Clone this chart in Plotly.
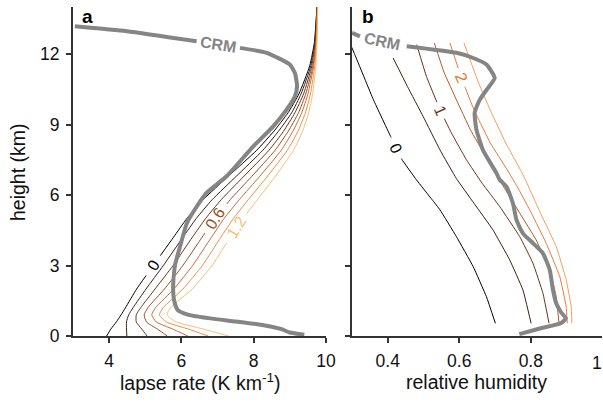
import numpy as np
import plotly.graph_objects as go

W, H = 603, 403

# ---------------- panel a : lapse rate ----------------
heights_a = [0, 0.3, 0.6, 0.9, 1.2, 2.0, 3.0, 4.2, 5.0, 5.8, 6.8, 7.9, 8.7, 9.5, 10.3, 11.5, 12.5, 14]
lapse_levels = ["0", "0.2", "0.4", "0.6", "0.8", "1", "1.2"]
lapse_0 = [3.93, 4.05, 4.20, 4.33, 4.45, 4.76, 5.22, 5.78, 6.15, 6.60, 7.30, 8.08, 8.55, 8.95, 9.25, 9.55, 9.68, 9.75]
lapse_1 = [4.49, 4.48, 4.48, 4.54, 4.66, 5.02, 5.50, 6.04, 6.41, 6.85, 7.52, 8.25, 8.68, 9.05, 9.31, 9.58, 9.69, 9.75]
lapse_2 = [5.05, 4.90, 4.75, 4.75, 4.87, 5.27, 5.77, 6.30, 6.67, 7.10, 7.73, 8.42, 8.82, 9.14, 9.38, 9.61, 9.70, 9.76]
lapse_3 = [5.61, 5.33, 5.03, 4.97, 5.07, 5.53, 6.04, 6.57, 6.93, 7.35, 7.95, 8.59, 8.95, 9.24, 9.44, 9.64, 9.72, 9.76]
lapse_4 = [6.18, 5.75, 5.30, 5.18, 5.28, 5.79, 6.31, 6.83, 7.18, 7.60, 8.17, 8.76, 9.08, 9.33, 9.50, 9.66, 9.73, 9.76]
lapse_5 = [6.74, 6.18, 5.58, 5.39, 5.49, 6.04, 6.58, 7.09, 7.44, 7.85, 8.38, 8.93, 9.22, 9.43, 9.57, 9.69, 9.74, 9.77]
lapse_6 = [7.30, 6.60, 5.85, 5.60, 5.70, 6.30, 6.85, 7.35, 7.70, 8.10, 8.60, 9.10, 9.35, 9.52, 9.63, 9.72, 9.75, 9.77]
lapse_lines = [lapse_0, lapse_1, lapse_2, lapse_3, lapse_4, lapse_5, lapse_6]
colors_a = ["#000000", "#3a1e0d", "#693315", "#9a4f24", "#c96a32", "#ec8e48", "#f9bd74"]

crm_h_a = [0.05, 0.15, 0.3, 0.5, 0.62, 0.75, 0.9, 1.1, 1.5, 2.1, 3.0, 3.8, 4.8, 5.5, 6.1, 6.8,
           8.07, 8.92, 9.63, 10.2, 10.62, 11.19, 11.55, 12.05, 12.26, 12.54, 12.97, 13.18]
crm_lapse = [9.40, 9.00, 8.75, 8.10, 7.50, 6.80, 6.20, 5.90, 5.80, 5.77, 5.82, 5.96, 6.15, 6.42, 6.70, 7.25,
             7.99, 8.54, 8.91, 9.14, 9.20, 9.14, 9.00, 8.36, 7.62, 6.42, 4.49, 3.05]

# ---------------- panel b : relative humidity ----------------
rh_levels = ["0", "0.5", "1", "1.5", "2", "2.5"]
rh0_h = [0.54, 1.67, 2.95, 4.23, 5.37, 5.8, 6.65, 7.5, 8.49, 10.05, 11.97, 12.47]
rh0 = [0.701, 0.676, 0.639, 0.592, 0.546, 0.524, 0.480, 0.440, 0.408, 0.360, 0.308, 0.294]
rh1_h = [0.54, 1.96, 3.24, 4.52, 5.65, 6.7, 7.92, 9.34, 10.62, 11.83]
rh1 = [0.801, 0.778, 0.741, 0.694, 0.641, 0.592, 0.546, 0.499, 0.455, 0.415]
rh2_h = [0.54, 1.82, 3.1, 4.23, 5.51, 6.5, 7.5, 8.64, 9.63, 11.05, 12.4]
rh2 = [0.851, 0.834, 0.806, 0.769, 0.713, 0.664, 0.620, 0.578, 0.546, 0.508, 0.481]
rh3_h = [0.54, 1.67, 2.81, 4.09, 5.23, 6.65, 7.64, 8.78, 10.05, 11.2, 12.47]
rh3 = [0.879, 0.871, 0.853, 0.815, 0.769, 0.712, 0.674, 0.631, 0.592, 0.558, 0.530]
rh4_h = [0.54, 1.25, 2.53, 3.95, 5.37, 6.36, 7.07, 8.21, 9.63, 10.98, 12.47]
rh4 = [0.902, 0.899, 0.881, 0.843, 0.797, 0.762, 0.734, 0.687, 0.641, 0.606, 0.574]
rh5_h = [0.54, 1.25, 2.39, 3.81, 5.23, 6.65, 7.07, 8.21, 9.63, 10.77, 12.47]
rh5 = [0.915, 0.913, 0.899, 0.871, 0.827, 0.785, 0.771, 0.730, 0.686, 0.654, 0.613]
rh_lines = [(rh0_h, rh0), (rh1_h, rh1), (rh2_h, rh2), (rh3_h, rh3), (rh4_h, rh4), (rh5_h, rh5)]
colors_b = ["#000000", "#3a1e0d", "#693315", "#b0582a", "#e57a3b", "#f69b5a"]

crm_h_b = [0.08, 0.3, 0.55, 0.75, 1.0, 1.39, 1.96, 2.81, 3.52, 3.95, 4.37, 4.94, 5.65, 6.36, 6.65, 6.93,
           7.92, 8.78, 9.49, 10.05, 10.55, 10.98, 11.55, 11.83, 12.05, 12.33, 12.75, 12.9]
crm_rh = [0.768, 0.820, 0.885, 0.898, 0.885, 0.871, 0.862, 0.853, 0.834, 0.806, 0.778, 0.760, 0.750, 0.732,
          0.713, 0.704, 0.666, 0.648, 0.643, 0.657, 0.680, 0.699, 0.676, 0.639, 0.592, 0.453, 0.322, 0.300]

# label placements (height of label centre, gap half-height)
labels_a = {0: (3.0, 0.42), 3: (5.0, 0.62), 6: (4.6, 0.62)}
labels_b = {0: (8.0, 0.45), 2: (9.6, 0.35), 4: (11.0, 0.4)}
crm_gap_a = (12.26, 12.54)
crm_gap_b = (12.33, 12.75)


def with_gap(h, v, lo, hi):
    h = list(h); v = list(v)
    xs, ys = [], []
    vlo = float(np.interp(lo, h, v)); vhi = float(np.interp(hi, h, v))
    inserted = False
    for hh, vv in zip(h, v):
        if lo < hh < hi:
            continue
        if hh >= hi and not inserted:
            xs += [vlo, None, vhi]; ys += [lo, None, hi]
            inserted = True
        xs.append(vv); ys.append(hh)
    return xs, ys


fig = go.Figure()
FONT = "Liberation Sans, Arial, sans-serif"

for k, vals in enumerate(lapse_lines):
    if k in labels_a:
        hc, dh = labels_a[k]
        xs, ys = with_gap(heights_a, vals, hc - dh, hc + dh)
    else:
        xs, ys = vals, heights_a
    fig.add_trace(go.Scatter(x=xs, y=ys, mode="lines", line=dict(color=colors_a[k], width=1, shape="spline", smoothing=0.5),
                             xaxis="x", yaxis="y", showlegend=False, hoverinfo="skip"))

xs, ys = with_gap(crm_h_a, crm_lapse, *crm_gap_a)
fig.add_trace(go.Scatter(x=xs, y=ys, mode="lines", line=dict(color="#858585", width=4, shape="spline", smoothing=0.5),
                         xaxis="x", yaxis="y", showlegend=False, hoverinfo="skip"))

for k, (hh, vals) in enumerate(rh_lines):
    if k in labels_b:
        hc, dh = labels_b[k]
        xs, ys = with_gap(hh, vals, hc - dh, hc + dh)
    else:
        xs, ys = vals, hh
    fig.add_trace(go.Scatter(x=xs, y=ys, mode="lines", line=dict(color=colors_b[k], width=1, shape="spline", smoothing=0.3),
                             xaxis="x2", yaxis="y2", showlegend=False, hoverinfo="skip"))

xs, ys = with_gap(crm_h_b, crm_rh, *crm_gap_b)
fig.add_trace(go.Scatter(x=xs, y=ys, mode="lines", line=dict(color="#858585", width=4, shape="spline", smoothing=0.5),
                         xaxis="x2", yaxis="y2", showlegend=False, hoverinfo="skip"))

ann = []
for k, (hc, dh) in labels_a.items():
    ann.append(dict(x=float(np.interp(hc, heights_a, lapse_lines[k])), y=hc, xref="x", yref="y",
                    text=lapse_levels[k], showarrow=False, textangle=-58,
                    font=dict(family=FONT, size=16, color=colors_a[k])))
for k, (hc, dh) in labels_b.items():
    hh, vals = rh_lines[k]
    ann.append(dict(x=float(np.interp(hc, hh, vals)), y=hc, xref="x2", yref="y2",
                    text=rh_levels[k], showarrow=False, textangle=66,
                    font=dict(family=FONT, size=16, color=colors_b[k])))
ann.append(dict(x=7.02, y=12.4, xref="x", yref="y", text="<b>CRM</b>", showarrow=False, textangle=9,
                font=dict(family=FONT, size=16, color="#858585")))
ann.append(dict(x=0.385, y=12.53, xref="x2", yref="y2", text="<b>CRM</b>", showarrow=False, textangle=12,
                font=dict(family=FONT, size=16, color="#858585")))
# panel letters
ann.append(dict(x=80 / W, y=1 - 16 / H, xref="paper", yref="paper", text="<b>a</b>", showarrow=False,
                xanchor="left", yanchor="middle", font=dict(family=FONT, size=19, color="black")))
ann.append(dict(x=360 / W, y=1 - 16 / H, xref="paper", yref="paper", text="<b>b</b>", showarrow=False,
                xanchor="left", yanchor="middle", font=dict(family=FONT, size=19, color="black")))
# axis titles
TITLE = 19.5
ann.append(dict(x=200 / W, y=1 - 382 / H, xref="paper", yref="paper", text="lapse rate (K km<sup>-1</sup>)",
                showarrow=False, xanchor="center", yanchor="middle", font=dict(family=FONT, size=TITLE, color="#111")))
ann.append(dict(x=476 / W, y=1 - 382 / H, xref="paper", yref="paper", text="relative humidity",
                showarrow=False, xanchor="center", yanchor="middle", font=dict(family=FONT, size=TITLE, color="#111")))
ann.append(dict(x=18 / W, y=1 - 172 / H, xref="paper", yref="paper", text="height (km)", textangle=-90,
                showarrow=False, xanchor="center", yanchor="middle", font=dict(family=FONT, size=TITLE, color="#111")))
# last rh tick label, sitting against the figure's right edge
ann.append(dict(x=1.0, y=1 - 363 / H, xref="paper", yref="paper", text="1", showarrow=False, xanchor="right",
                yanchor="middle", borderpad=0, font=dict(family=FONT, size=17.5, color="#111")))

ydom = [67 / H, 396 / H]
TICK = 17.5
axis_common = dict(showgrid=False, zeroline=False, showline=True, linecolor="#333", linewidth=2,
                   ticks="outside", ticklen=5, tickwidth=2, tickcolor="#333",
                   tickfont=dict(family=FONT, size=TICK, color="#111"), automargin=False)

fig.update_layout(
    width=W, height=H, margin=dict(l=0, r=0, t=0, b=0),
    paper_bgcolor="white", plot_bgcolor="white",
    xaxis=dict(domain=[73 / W, 326 / W], range=[3, 10], tickvals=[4, 6, 8, 10], anchor="y",
               ticklabelstandoff=3, **axis_common),
    yaxis=dict(domain=ydom, range=[0, 14], tickvals=[0, 3, 6, 9, 12], anchor="x",
               ticklabelstandoff=3, **axis_common),
    xaxis2=dict(domain=[352 / W, 602.3 / W], range=[0.3, 1.0], tickvals=[0.4, 0.6, 0.8],
                anchor="y2", ticklabelstandoff=3, **axis_common),
    yaxis2=dict(domain=ydom, range=[0, 14], tickvals=[0, 3, 6, 9, 12], anchor="x2",
                showticklabels=False, **axis_common),
    annotations=ann,
)

fig.write_html("out.html", config={"displayModeBar": False},
               post_script="document.body.style.margin='0';document.body.style.overflow='hidden';")
